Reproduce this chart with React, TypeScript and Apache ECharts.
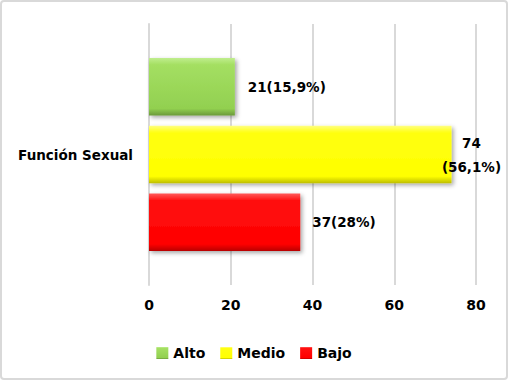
import React, { useEffect, useRef } from "react";
import * as echarts from "echarts";

const categories = ["Función Sexual"];
const seriesNames = ["Alto", "Medio", "Bajo"];
const altoValues = [21];
const medioValues = [74];
const bajoValues = [37];
const altoPct = ["15,9%"];
const medioPct = ["56,1%"];
const bajoPct = ["28%"];
const xTicks = { min: 0, max: 80, interval: 20 };

const FONT = "DejaVu Sans";

function grad(top: string, mid: string, base: string, bottom: string) {
  return new echarts.graphic.LinearGradient(0, 0, 0, 1, [
    { offset: 0, color: top },
    { offset: 0.12, color: mid },
    { offset: 0.88, color: base },
    { offset: 1, color: bottom },
  ]);
}

export default function App() {
  const ref = useRef<HTMLDivElement>(null);
  useEffect(() => {
    if (!ref.current) return;
    const chart = echarts.init(ref.current, null, { renderer: "svg" });
    const shadow = {
      shadowBlur: 4,
      shadowColor: "rgba(0,0,0,0.35)",
      shadowOffsetX: 2,
      shadowOffsetY: 2,
    };
    const labelBase = {
      show: true,
      position: "right" as const,
      color: "#000",
      fontFamily: FONT,
      fontWeight: "bold" as const,
      fontSize: 13.5,
    };
    chart.setOption({
      animation: false,
      graphic: [
        {
          type: "rect",
          shape: { x: 1, y: 1, width: 506, height: 378, r: 3 },
          style: { fill: "none", stroke: "#d9d9d9", lineWidth: 2 },
          silent: true,
          z: 100,
        },
      ],
      grid: { left: 149, right: 32, top: 24, bottom: 95 },
      legend: {
        data: seriesNames,
        top: 341,
        left: "center",
        itemWidth: 12,
        itemHeight: 12,
        itemGap: 15,
        icon: "rect",
        textStyle: {
          fontFamily: FONT,
          fontWeight: "bold",
          fontSize: 14,
          color: "#000",
        },
      },
      xAxis: {
        type: "value",
        min: xTicks.min,
        max: xTicks.max,
        interval: xTicks.interval,
        axisLine: { show: false },
        axisTick: { show: false },
        splitLine: { lineStyle: { color: "#d9d9d9", width: 2 } },
        axisLabel: {
          margin: 13,
          fontFamily: FONT,
          fontWeight: "bold",
          fontSize: 14,
          color: "#000",
        },
      },
      yAxis: {
        type: "category",
        data: categories,
        axisLine: { show: true, lineStyle: { color: "#d9d9d9", width: 2 } },
        axisTick: { show: false },
        axisLabel: {
          margin: 16,
          fontFamily: FONT,
          fontWeight: "bold",
          fontSize: 13.5,
          color: "#000",
        },
      },
      series: [
        {
          name: "Alto",
          type: "bar",
          data: altoValues,
          barCategoryGap: "26%",
          barGap: "18%",
          itemStyle: {
            color: grad("#c0ee8e", "#a4df62", "#92d050", "#6b9a3a"),
            ...shadow,
          },
          label: {
            ...labelBase,
            distance: 13,
            formatter: (p: any) => `${p.value}(${altoPct[p.dataIndex]})`,
          },
        },
        {
          name: "Medio",
          type: "bar",
          data: medioValues,
          barCategoryGap: "26%",
          barGap: "18%",
          itemStyle: {
            color: grad("#ffff80", "#ffff10", "#ffff00", "#bdbd00"),
            ...shadow,
          },
          label: {
            ...labelBase,
            distance: 20,
            align: "center",
            lineHeight: 24,
            formatter: (p: any) => `${p.value}\n(${medioPct[p.dataIndex]})`,
          },
        },
        {
          name: "Bajo",
          type: "bar",
          data: bajoValues,
          barCategoryGap: "26%",
          barGap: "18%",
          itemStyle: {
            color: grad("#ff5a5a", "#ff1010", "#ff0000", "#b80000"),
            ...shadow,
          },
          label: {
            ...labelBase,
            distance: 12,
            formatter: (p: any) => `${p.value}(${bajoPct[p.dataIndex]})`,
          },
        },
      ],
    });
    return () => chart.dispose();
  }, []);
  return (
    <div
      ref={ref}
      style={{ position: "fixed", left: 0, top: 0, width: 508, height: 380, background: "#fff" }}
    />
  );
}
